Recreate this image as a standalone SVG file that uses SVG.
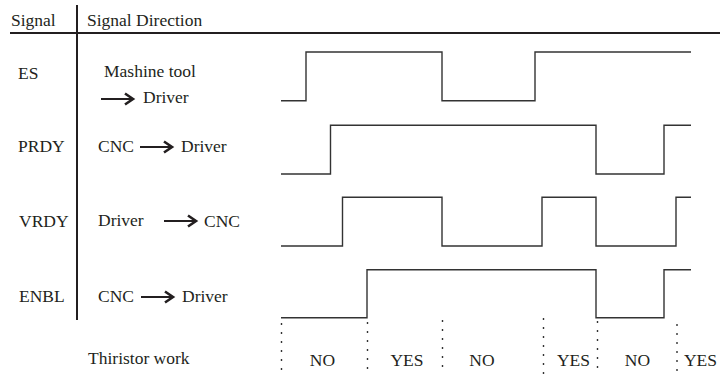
<svg xmlns="http://www.w3.org/2000/svg" width="720" height="374" viewBox="0 0 720 374" font-family="Liberation Serif, Times New Roman, serif" font-size="17.5">
<style>
text{font-family:'Liberation Serif','Times New Roman',Times,serif;font-size:17.5px;fill:#231f20}
.mid{text-anchor:middle}
.axis{stroke:#231f20;stroke-width:2;fill:none}
.wave{stroke:#333;stroke-width:1.4;fill:none}
.dot{stroke:#333;stroke-width:1.4;stroke-dasharray:2 7;fill:none}
.arr{stroke:#231f20;stroke-width:2;fill:none}
.head{stroke:#231f20;stroke-width:2.6;fill:none;stroke-linejoin:miter}
</style>
<defs>
<g id="arrow">
<path class="arr" d="M0,0 H31"/>
<path class="head" d="M24,-5.5 L32,0 L24,5.5"/>
</g>
</defs>
<g id="header">
<text x="11" y="26">Signal</text>
<text x="87" y="26">Signal Direction</text>
<path class="axis" d="M10,33 H720 M77,5 V320"/>
</g>
<g id="es">
<text x="18" y="79">ES</text>
<text x="104" y="77">Mashine tool</text>
<use href="#arrow" x="101" y="99"/>
<text x="143" y="103">Driver</text>
</g>
<g id="prdy">
<text x="18" y="152">PRDY</text>
<text x="98" y="152">CNC</text>
<use href="#arrow" x="140" y="147"/>
<text x="181" y="152">Driver</text>
</g>
<g id="vrdy">
<text x="19" y="227">VRDY</text>
<text x="98" y="226">Driver</text>
<use href="#arrow" x="164" y="221"/>
<text x="204" y="227">CNC</text>
</g>
<g id="enbl">
<text x="19" y="302">ENBL</text>
<text x="98" y="302">CNC</text>
<use href="#arrow" x="141" y="297"/>
<text x="182" y="302">Driver</text>
</g>
<g id="connectors">
<path class="wave" d="M281,100.7 H306 V52 H442 V100.7 H535 V52 H691"/>
<path class="wave" d="M281,174 H330.5 V125.3 H596 V174 H664 V125.3 H691"/>
<path class="wave" d="M281,246 H342.5 V197.3 H442 V246 H542 V197.3 H596 V246 H676 V197.3 H691"/>
<path class="wave" d="M281,317.7 H367 V269.7 H596 V317.7 H664 V269.7 H691"/>
<path class="dot" d="M281.5,323 V374 M367.5,322 V374 M442.5,320 V374 M543.5,318 V374 M597.5,321 V374 M677,324 V374"/>
</g>
<g id="thiristor">
<text x="88" y="364">Thiristor work</text>
<text class="mid" x="322.5" y="366">NO</text>
<text class="mid" x="407" y="366">YES</text>
<text class="mid" x="482" y="366">NO</text>
<text class="mid" x="573.5" y="366">YES</text>
<text class="mid" x="637.5" y="366">NO</text>
<text class="mid" x="700.5" y="366">YES</text>
</g>
</svg>
